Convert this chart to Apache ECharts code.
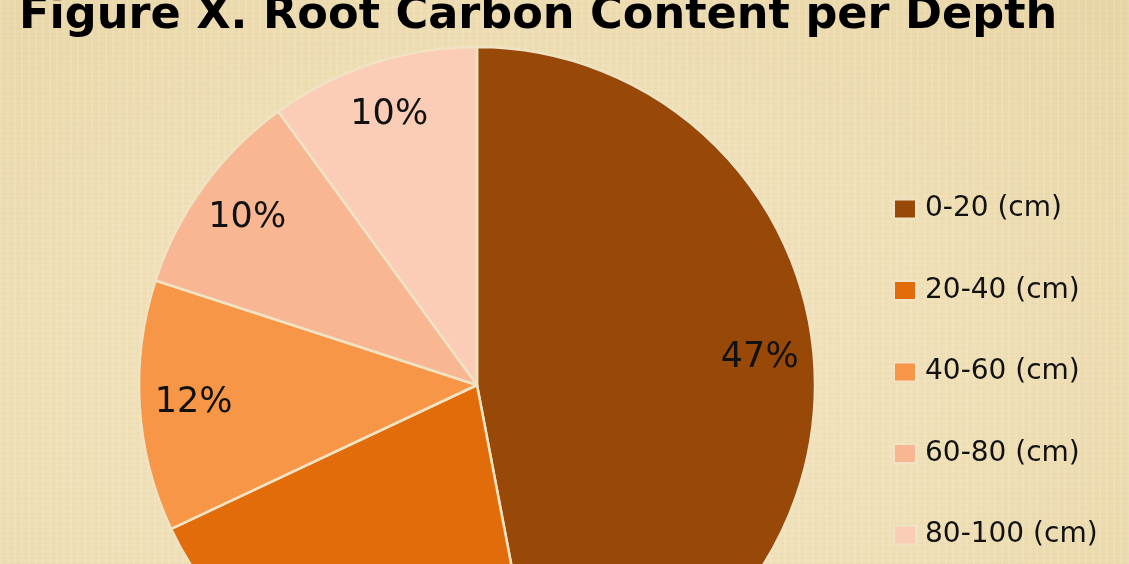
<!DOCTYPE html>
<html>
<head>
<meta charset="utf-8">
<title>Root Carbon Content per Depth</title>
<script src="https://cdn.jsdelivr.net/npm/echarts@6/dist/echarts.min.js"></script>
<style>
    html, body { margin: 0; padding: 0; }
    body {
        width: 1129px; height: 564px; overflow: hidden;
        background-color: #efdfb5;
        background-image:
            repeating-linear-gradient(90deg, rgba(255,255,255,0.10) 0px, rgba(255,255,255,0.10) 2px, rgba(0,0,0,0) 2px, rgba(0,0,0,0) 7px),
            repeating-linear-gradient(0deg, rgba(190,160,100,0.06) 0px, rgba(190,160,100,0.06) 1px, rgba(0,0,0,0) 1px, rgba(0,0,0,0) 5px),
            radial-gradient(ellipse at 45% 70%, #f2e5c4 0%, #efdfb5 55%, #e8d5a6 100%);
    }
    #container { width: 1129px; height: 564px; }
</style>
</head>
<body>
<div id="container"></div>
<script>
// depth classes and their share of root carbon (%)
var depths = ['0-20 (cm)', '20-40 (cm)', '40-60 (cm)', '60-80 (cm)', '80-100 (cm)'];
var carbonShare = [47, 21, 12, 10, 10];
var sliceColors = ['#984807', '#e36c0a', '#f79646', '#f8b692', '#fccdb6'];

var pieData = [];
for (var i = 0; i < depths.length; i++) {
    pieData.push({ name: depths[i], value: carbonShare[i] });
}

var myChart = echarts.init(document.getElementById('container'));
var option = {
    backgroundColor: 'transparent',
    animation: false,
    color: sliceColors,
    title: {
        text: 'Figure X. Root Carbon Content per Depth',
        left: 19,
        top: -6,
        padding: 0,
        textStyle: {
            fontFamily: 'DejaVu Sans',
            fontWeight: 'bold',
            fontSize: 44.6,
            lineHeight: 45,
            color: '#000'
        }
    },
    legend: {
        orient: 'vertical',
        left: 893,
        top: 195,
        padding: 0,
        itemWidth: 22,
        itemHeight: 19,
        itemGap: 53.5,
        icon: 'rect',
        data: depths,
        textStyle: {
            fontFamily: 'DejaVu Sans',
            fontSize: 28,
            color: '#111',
            padding: [0, 0, 0, 4]
        }
    },
    series: [
        {
            // the visible pie
            type: 'pie',
            center: [477, 385],
            radius: [0, 338],
            startAngle: 90,
            clockwise: true,
            avoidLabelOverlap: false,
            label: { show: false },
            labelLine: { show: false },
            itemStyle: {
                borderColor: '#efe3c4',
                borderWidth: 2.5
            },
            emphasis: { disabled: true },
            data: pieData
        },
        {
            // transparent twin, only carries the percent labels near the rim
            type: 'pie',
            center: [477, 385],
            radius: [0, 562],
            startAngle: 90,
            clockwise: true,
            silent: true,
            avoidLabelOverlap: false,
            itemStyle: { color: 'rgba(0,0,0,0)', borderWidth: 0 },
            label: {
                show: true,
                position: 'inside',
                formatter: '{d}%',
                fontFamily: 'DejaVu Sans',
                fontSize: 35,
                color: '#111'
            },
            labelLine: { show: false },
            emphasis: { disabled: true },
            data: pieData
        }
    ]
};
myChart.setOption(option, true);
</script>
</body>
</html>
